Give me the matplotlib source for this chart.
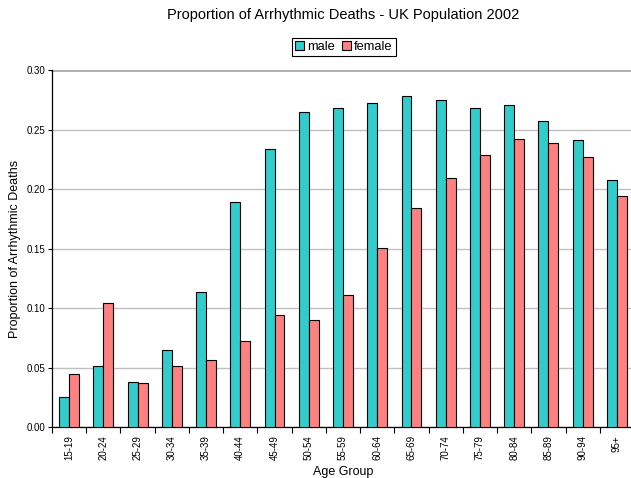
import numpy as np
import matplotlib
matplotlib.use("Agg")
import matplotlib.pyplot as plt

plt.rcParams['font.family'] = ['Liberation Sans', 'DejaVu Sans']

age_groups = ["15-19", "20-24", "25-29", "30-34", "35-39", "40-44", "45-49", "50-54",
              "55-59", "60-64", "65-69", "70-74", "75-79", "80-84", "85-89", "90-94", "95+"]
male = [0.0253, 0.0511, 0.0376, 0.0646, 0.1140, 0.1893, 0.2340, 0.2649,
        0.2683, 0.2725, 0.2787, 0.2750, 0.2683, 0.2708, 0.2576, 0.2416, 0.2081]
female = [0.0444, 0.1042, 0.0371, 0.0514, 0.0567, 0.0722, 0.0944, 0.0902,
          0.1112, 0.1508, 0.1846, 0.2096, 0.2292, 0.2424, 0.2393, 0.2275, 0.1944]

fig = plt.figure(figsize=(6.31, 4.78), dpi=100)
ax = fig.add_axes([52 / 631, 51 / 478, 582 / 631, 356.5 / 478])

x = np.arange(len(age_groups))
w = 0.29
ax.bar(x - w / 2, male, w, color="#33CCCC", edgecolor="black", linewidth=0.8,
       label="male", zorder=3)
ax.bar(x + w / 2, female, w, color="#FF8080", edgecolor="black", linewidth=0.8,
       label="female", zorder=3)

ax.set_xlim(-0.5, len(age_groups) - 0.5)
ax.set_ylim(0, 0.30)
ax.set_yticks(np.arange(0, 0.301, 0.05))
ax.set_yticklabels([f"{v:.2f}" for v in np.arange(0, 0.301, 0.05)], fontsize=7)
ax.yaxis.grid(True, color="#C0C0C0", linewidth=1, zorder=0)
# top border line of the plot area
ax.axhline(0.30, color="#A0A0A0", linewidth=1.2, clip_on=False, zorder=1)
ax.tick_params(axis="y", length=3, width=0.8, pad=2)

# ticks sit between the groups, labels sit under them
ax.set_xticks(np.arange(-0.5, len(age_groups), 1.0))
ax.set_xticklabels([])
ax.set_xticks(x, minor=True)
ax.set_xticklabels(age_groups, minor=True, rotation=90, fontsize=7)
ax.tick_params(axis="x", which="major", length=4, width=0.8)
ax.tick_params(axis="x", which="minor", length=0, pad=6)

for side in ["top", "right"]:
    ax.spines[side].set_visible(False)
ax.spines["left"].set_linewidth(0.9)
ax.spines["bottom"].set_linewidth(0.9)

ax.set_xlabel("Age Group", fontsize=9, labelpad=4)
ax.set_ylabel("Proportion of Arrhythmic Deaths", fontsize=9, labelpad=4)

fig.suptitle("Proportion of Arrhythmic Deaths - UK Population 2002", fontsize=10.5,
             x=343 / 631, y=1 - 8 / 478, va="top")

leg = ax.legend(loc="center", bbox_to_anchor=(344 / 631, 1 - 47 / 478),
                bbox_transform=fig.transFigure, ncol=2, fontsize=9.3,
                fancybox=False, framealpha=1, edgecolor="black",
                handlelength=0.7, handleheight=0.7, handletextpad=0.25,
                columnspacing=0.5, borderpad=0.25, borderaxespad=0)
leg.get_frame().set_linewidth(0.8)

fig.savefig("out.png", dpi=100)
